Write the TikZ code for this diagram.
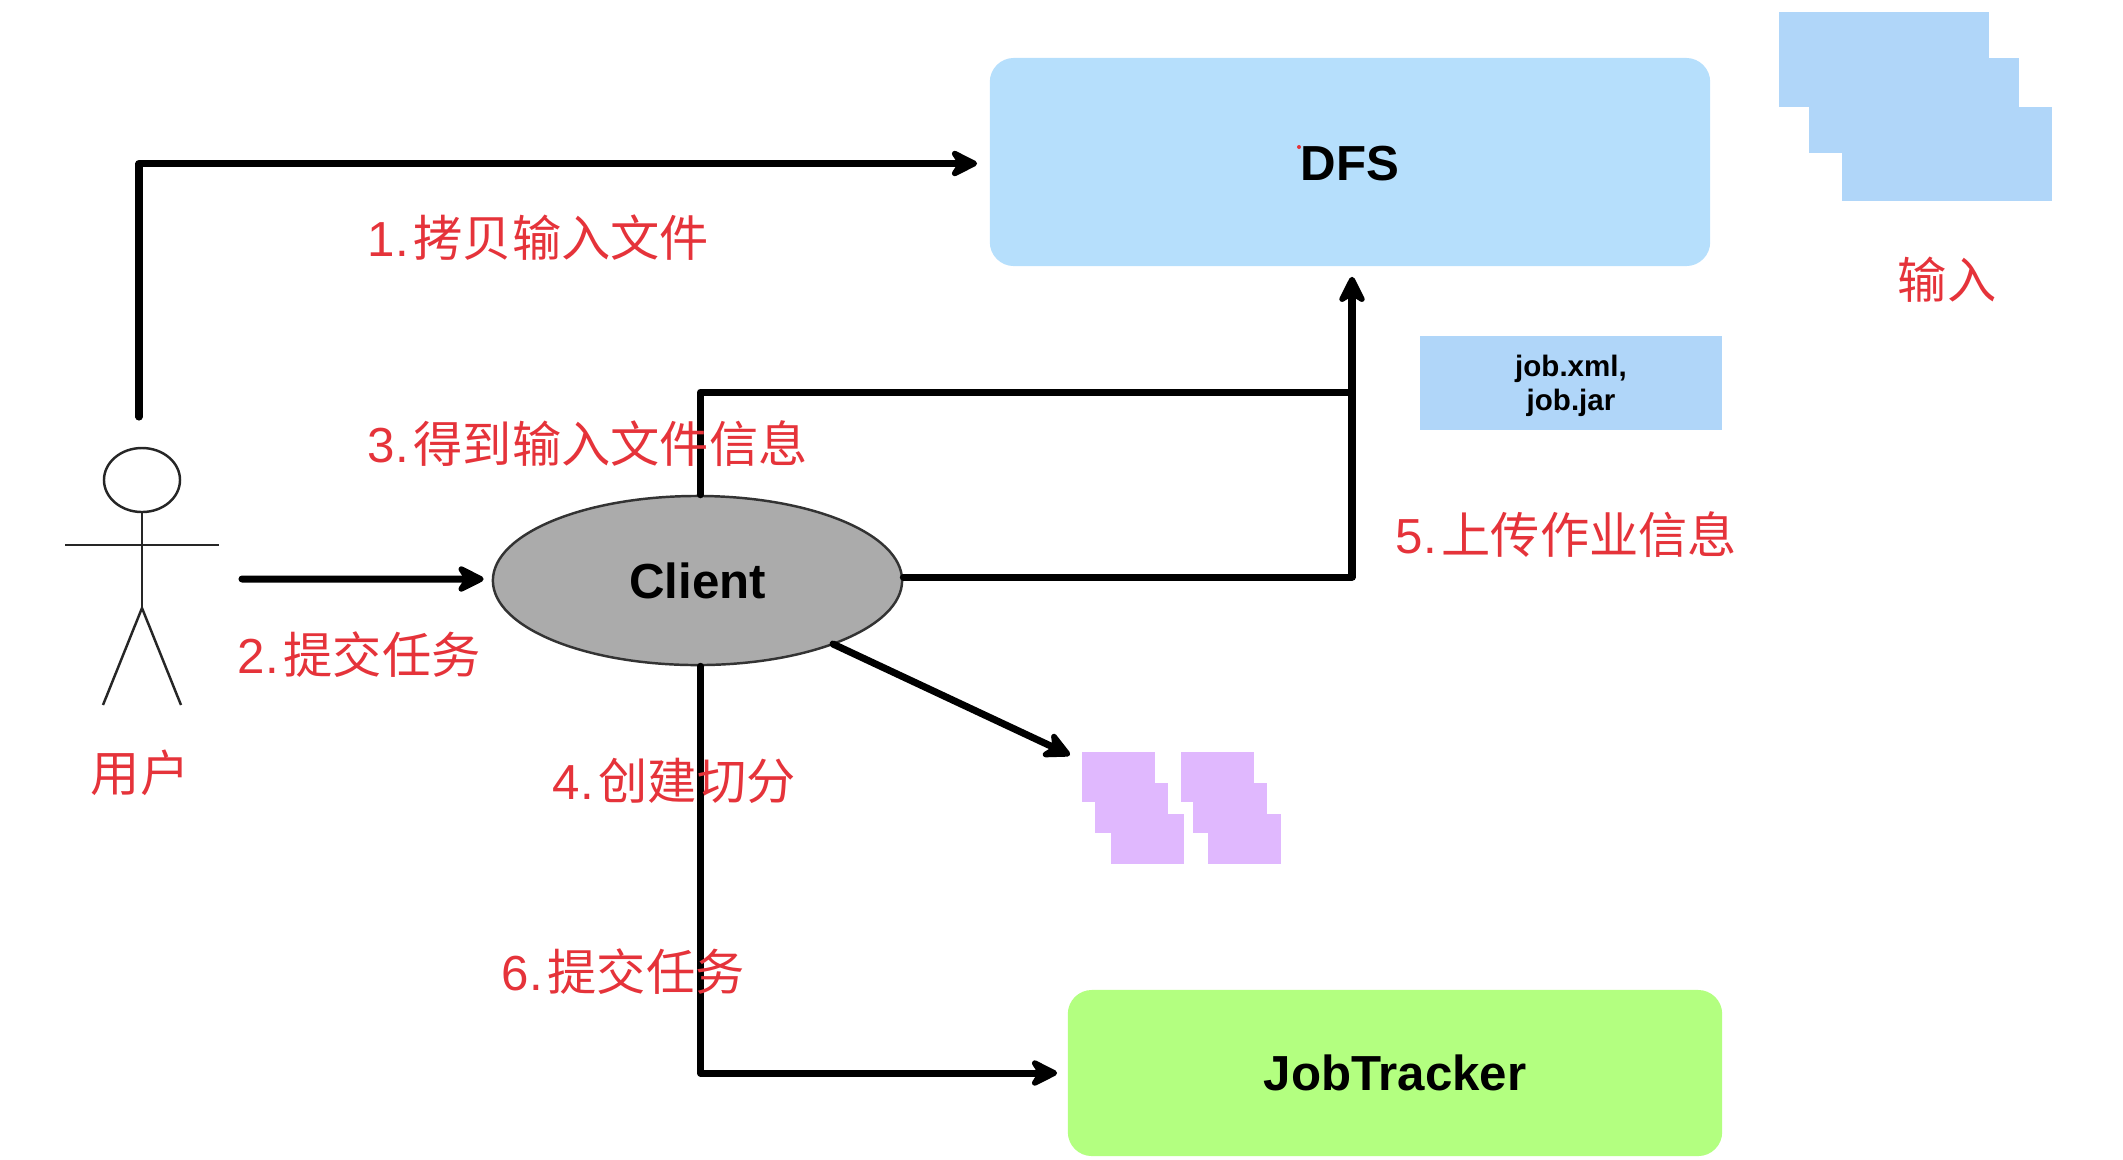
\documentclass[tikz,border=0pt]{standalone}
\usepackage{fontspec}
\usetikzlibrary{arrows.meta,shapes.geometric}
\setmainfont{Liberation Sans}
\newfontfamily\cjk{Noto Sans CJK SC}
\definecolor{dfsblue}{HTML}{B6DFFC}
\definecolor{stackblue}{HTML}{B0D6F9}
\definecolor{splitpurple}{HTML}{E0B8FE}
\definecolor{trackgreen}{HTML}{B3FF80}
\definecolor{clientgray}{HTML}{ABABAB}
\definecolor{labelred}{HTML}{E5333A}
\tikzset{
  x=0.01cm,y=-0.01cm,
  conn/.style={draw=black,line width=2pt,line join=round,line cap=round,-{Stealth[length=9.5pt,width=9.5pt,inset=3pt,round]}},
  plainconn/.style={draw=black,line width=2pt,line join=round,line cap=round},
  thin line/.style={draw=black!85,line width=0.7pt},
  bigbox/.style={rounded corners=0.24cm,inner sep=0pt,font=\fontsize{14}{16}\selectfont\bfseries},
  redlabel/.style={text=labelred,inner sep=0pt,anchor=west,font=\fontsize{14}{17}\selectfont},
}
\newcommand{\numgap}{\hspace{0.10em}}
\newcommand{\lowered}[2]{\raisebox{-#1}[\height][\depth]{#2}}
\begin{document}
\begin{tikzpicture}
\useasboundingbox (0,0) rectangle (2123,1159);
% input stack
\fill[stackblue] (1779,12) rectangle (1989,107);
\fill[stackblue] (1809,58) rectangle (2019,153);
\fill[stackblue] (1842,107) rectangle (2052,201);
% split stacks
\fill[splitpurple] (1082,752) rectangle (1155,802);
\fill[splitpurple] (1095,783) rectangle (1168,833);
\fill[splitpurple] (1111,814) rectangle (1184,864);
\fill[splitpurple] (1181,752) rectangle (1254,802);
\fill[splitpurple] (1193,783) rectangle (1267,833);
\fill[splitpurple] (1208,814) rectangle (1281,864);
% boxes
\node[bigbox,fill=dfsblue,minimum width=7.2cm,minimum height=2.08cm] (dfs) at (1350,162) {\lowered{0.015cm}{DFS}};
\node[bigbox,fill=trackgreen,minimum width=6.54cm,minimum height=1.66cm] (tracker) at (1395,1073) {JobTracker};
\node[fill=stackblue,inner sep=0pt,minimum width=3.02cm,minimum height=0.93cm,align=center,font=\fontsize{8.4}{9.6}\selectfont\bfseries] (jobfiles) at (1571,383) {\lowered{0.03cm}{job.xml,}\\\lowered{0.03cm}{job.jar}};
\node[ellipse,draw=black!80,line width=0.7pt,fill=clientgray,minimum width=4.09cm,minimum height=1.69cm,inner sep=0pt,font=\fontsize{14}{16}\selectfont\bfseries] (client) at (697.5,580.5) {Client};
\fill[labelred] (1299,147) circle (2);
% user
\node[ellipse,draw=black!85,line width=0.7pt,fill=white,minimum width=0.76cm,minimum height=0.64cm,inner sep=0pt] (head) at (142,480) {};
\coordinate (hip) at (142,608);
\coordinate (armL) at (65,545);
\coordinate (armR) at (219,545);
\coordinate (footL) at (103,705);
\coordinate (footR) at (181,705);
\draw[thin line] (head.south) -- (hip);
\draw[thin line] (armL) -- (armR);
\draw[thin line,line join=round] (footL) -- (hip) -- (footR);
% connector anchors
\coordinate (userTop) at (139,417);
\coordinate (userRight) at (242,579);
\coordinate (junction) at (1351,392);
\coordinate (clientEdge) at (833,644);
\coordinate (splits) at (1070,755);
% connectors
\draw[conn] (userTop) |- ([xshift=-0.12cm,yshift=-0.015cm]dfs.west);
\draw[conn] (userRight) -- ([xshift=-0.08cm,yshift=0.015cm]client.west);
\draw[plainconn] ([xshift=0.03cm]client.north) |- (junction);
\draw[conn] ([yshift=0.035cm]client.east) -| ([yshift=-0.1cm,xshift=0.02cm]dfs.south);
\draw[conn] (clientEdge) -- (splits);
\draw[conn] ([xshift=0.03cm]client.south) |- ([xshift=-0.1cm]tracker.west);
% labels
\node[redlabel] (l1) at (367,238) {1.\numgap{\cjk 拷贝输入文件}};
\node[redlabel] (l2) at (237,655) {2.\numgap{\cjk 提交任务}};
\node[redlabel] (l3) at (367,444) {3.\numgap{\cjk 得到输入文件信息}};
\node[redlabel] (l4) at (552,781) {4.\numgap{\cjk 创建切分}};
\node[redlabel] (l5) at (1395,535) {5.\numgap{\cjk 上传作业信息}};
\node[redlabel] (l6) at (501,972) {6.\numgap{\cjk 提交任务}};
\node[redlabel,anchor=center] (user) at (140,773) {\cjk 用户};
\node[redlabel,anchor=center] (input) at (1947,280) {\cjk 输入};
\end{tikzpicture}
\end{document}
